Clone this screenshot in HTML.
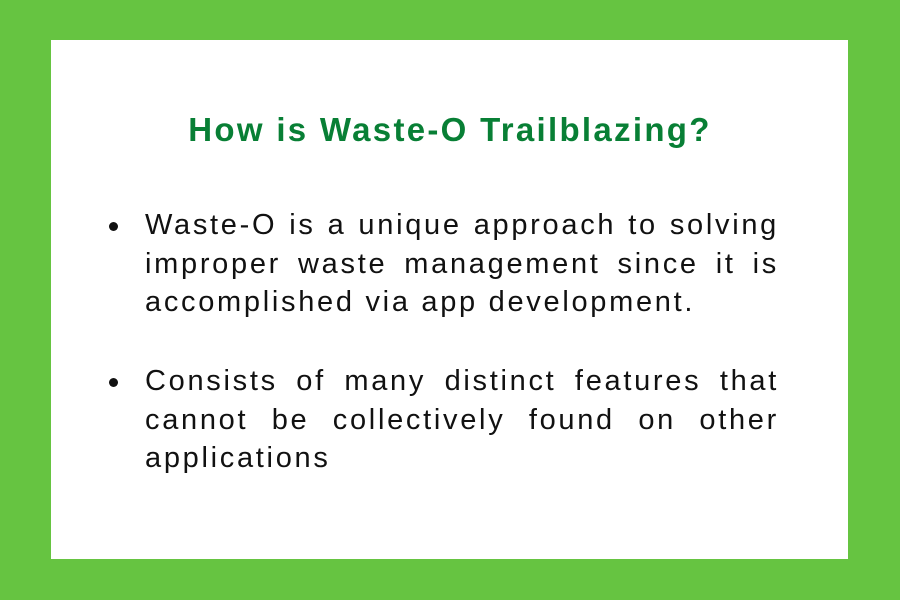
<!DOCTYPE html>
<html><head><style>
body{margin:0;width:900px;height:600px;background:#66c441;position:relative;overflow:hidden;font-family:"Liberation Sans",sans-serif}
.box{position:absolute;left:51px;top:40px;width:797px;height:519px;background:#fff}
.t{position:absolute;left:0;width:900px;top:111px;text-align:center;font-weight:bold;font-size:33px;color:#087f35;letter-spacing:2.3px}
.l{position:absolute;left:145px;width:634px;font-size:29px;color:#111;letter-spacing:2.7px;height:34px;line-height:34px;white-space:nowrap}
.j{text-align:justify;text-align-last:justify;white-space:normal;letter-spacing:2.7px}
.d{position:absolute;left:109px;width:9px;height:9px;border-radius:50%;background:#111}
</style></head><body>
<div class="box"></div>
<div class="t">How is Waste-O Trailblazing?</div>
<div class="d" style="top:222px"></div>
<div class="l j" style="top:208px">Waste-O is a unique approach to solving</div>
<div class="l j" style="top:247px">improper waste management since it is</div>
<div class="l" style="top:285px">accomplished via app development.</div>
<div class="d" style="top:378px"></div>
<div class="l j" style="top:364px">Consists of many distinct features that</div>
<div class="l j" style="top:403px">cannot be collectively found on other</div>
<div class="l" style="top:441px">applications</div>
</body></html>
